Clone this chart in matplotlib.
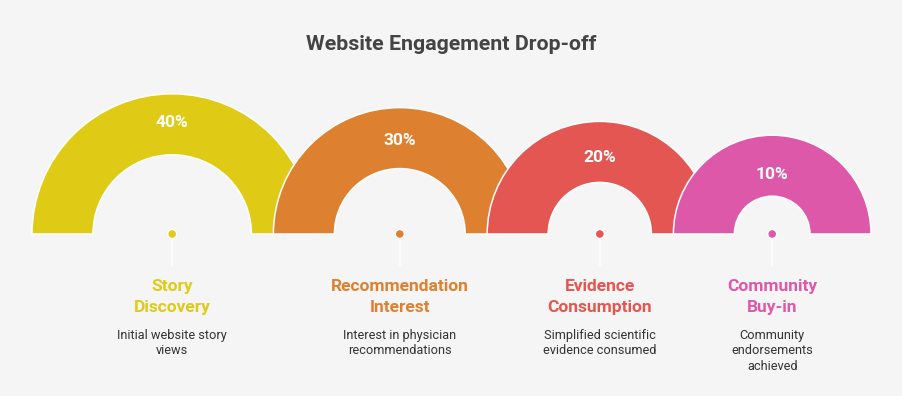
import matplotlib
matplotlib.use('Agg')
import matplotlib.pyplot as plt
from matplotlib.patches import Wedge, Circle

plt.rcParams['font.family'] = ['Roboto', 'DejaVu Sans']

title = "Website Engagement Drop-off"
stages = ["Story\nDiscovery", "Recommendation\nInterest", "Evidence\nConsumption", "Community\nBuy-in"]
values = [40, 30, 20, 10]
value_labels = ["40%", "30%", "20%", "10%"]
descriptions = ["Initial website story\nviews",
                "Interest in physician\nrecommendations",
                "Simplified scientific\nevidence consumed",
                "Community\nendorsements\nachieved"]
colors = ["#DFCB15", "#DD8130", "#E45652", "#DE58A9"]

W, H = 903, 396
BG = "#F5F5F5"
fig = plt.figure(figsize=(W / 100, H / 100), dpi=100, facecolor=BG)
ax = fig.add_axes([0, 0, 1, 1])
ax.set_facecolor(BG)
ax.set_xlim(0, W)
ax.set_ylim(H, 0)
ax.axis('off')

base_y = 234
thickness = 61
overlap = 39
left = 32


def outer_r(v):
    return 85 + 1.38 * v


radii = [outer_r(v) for v in values]
centers = []
cx = left + radii[0]
for i, r in enumerate(radii):
    if i > 0:
        cx = centers[-1] + radii[i - 1] + r - overlap
    centers.append(cx)

ax.text(W / 2, 44, title, ha='center', va='center', fontsize=15.4,
        fontweight='bold', color='#444444')

for i, (v, lab, st, desc, col) in enumerate(zip(values, value_labels, stages, descriptions, colors)):
    cx = centers[i]
    R = radii[i]
    w = Wedge((cx, base_y), R, 180, 360, width=thickness, facecolor=col,
              edgecolor='white', linewidth=1.1, zorder=2 + i)
    ax.add_patch(w)
    ly = base_y - (1.244 * R - 61.9) + 1.5
    ax.text(cx, ly, lab, ha='center', va='center', fontsize=12.5,
            fontweight='bold', color='white', zorder=20)
    # stem and dot
    ax.plot([cx, cx], [base_y, 266], color='white', linewidth=1.1, zorder=15,
            solid_capstyle='butt')
    ax.add_patch(Circle((cx, base_y), 4.5, facecolor=col, edgecolor='white',
                        linewidth=1.0, zorder=16))
    ax.text(cx, 297, st, ha='center', va='center', fontsize=12.5,
            fontweight='bold', color=col, linespacing=1.5, zorder=20)
    ax.text(cx, 328.5, desc, ha='center', va='top', fontsize=9.2,
            color='#333333', linespacing=1.25, zorder=20)

fig.savefig('out.png', dpi=100, facecolor=BG)
